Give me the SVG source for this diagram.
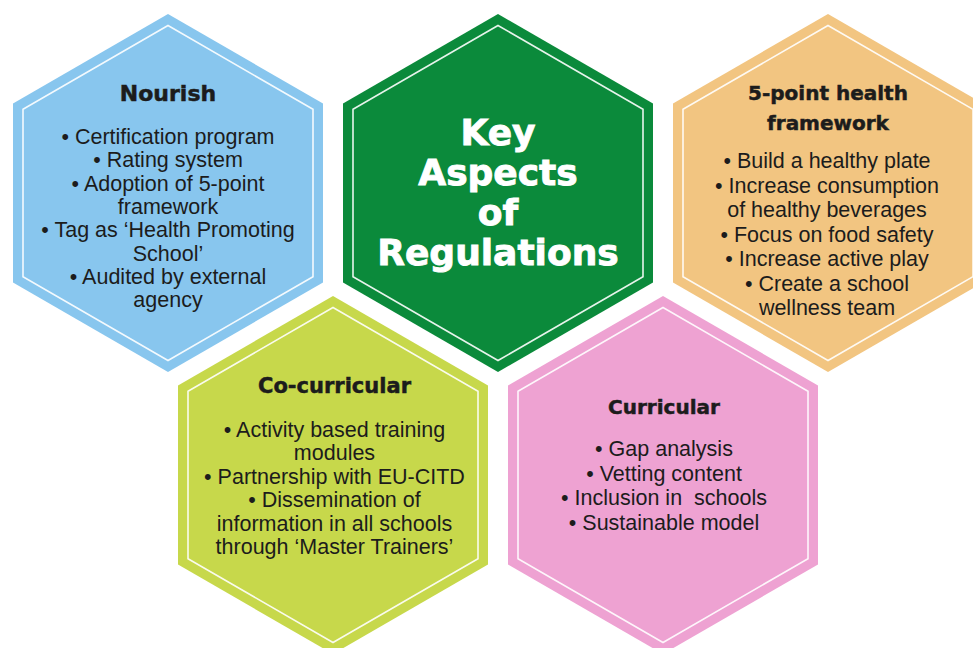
<svg xmlns="http://www.w3.org/2000/svg" xmlns:xlink="http://www.w3.org/1999/xlink" width="973" height="648" viewBox="0 0 973 648">
<style>
.inner{fill:none;stroke:#ffffff;stroke-width:1.6;stroke-opacity:0.9}
.t{font-family:"DejaVu Sans","Liberation Sans",Arial,sans-serif;font-weight:bold;fill:#1c1c1c;stroke:#1c1c1c;stroke-width:0.5;text-anchor:middle}
.b{font-family:"Liberation Sans",Arial,sans-serif;font-size:21.5px;fill:#1c1c1c;text-anchor:middle}
.k{font-family:"DejaVu Sans","Liberation Sans",Arial,sans-serif;font-weight:bold;font-size:36px;fill:#ffffff;stroke:#ffffff;stroke-width:0.9;text-anchor:middle}
</style>
<defs>
<polygon id="hex" points="0,-179 155,-89.5 155,89.5 0,179 -155,89.5 -155,-89.5"/>
<polygon id="hexIn" points="0,-167.5 145,-83.7 145,83.7 0,167.5 -145,83.7 -145,-83.7"/>
</defs>
<rect width="973" height="648" fill="#ffffff"/>

<g id="nourish">
<use xlink:href="#hex" href="#hex" x="168" y="193" fill="#88c6ee"/>
<use xlink:href="#hexIn" href="#hexIn" x="168" y="193" class="inner"/>
<text class="t" x="168" y="101" font-size="22">Nourish</text>
<text class="b" x="168" y="144">• Certification program</text>
<text class="b" x="168" y="167.3">• Rating system</text>
<text class="b" x="168" y="190.6">• Adoption of 5-point</text>
<text class="b" x="168" y="214">framework</text>
<text class="b" x="168" y="237.2">• Tag as ‘Health Promoting</text>
<text class="b" x="168" y="260.5">School’</text>
<text class="b" x="168" y="283.8">• Audited by external</text>
<text class="b" x="168" y="307">agency</text>
</g>

<g id="key-aspects">
<use xlink:href="#hex" href="#hex" x="498" y="193" fill="#0b8a3b"/>
<use xlink:href="#hexIn" href="#hexIn" x="498" y="193" class="inner"/>
<text class="k" x="498" y="145">Key</text>
<text class="k" x="498" y="185">Aspects</text>
<text class="k" x="498" y="225">of</text>
<text class="k" x="498" y="265">Regulations</text>
</g>

<g id="five-point">
<use xlink:href="#hex" href="#hex" x="828" y="193" fill="#f2c581"/>
<use xlink:href="#hexIn" href="#hexIn" x="828" y="193" class="inner"/>
<text class="t" x="828" y="100" font-size="20">5-point health</text>
<text class="t" x="828" y="130" font-size="20">framework</text>
<text class="b" x="827" y="168">• Build a healthy plate</text>
<text class="b" x="827" y="192.5">• Increase consumption</text>
<text class="b" x="827" y="217">of healthy beverages</text>
<text class="b" x="827" y="241.5">• Focus on food safety</text>
<text class="b" x="827" y="266">• Increase active play</text>
<text class="b" x="827" y="290.5">• Create a school</text>
<text class="b" x="827" y="315">wellness team</text>
</g>

<g id="co-curricular">
<use xlink:href="#hex" href="#hex" x="333" y="475" fill="#c7d84b"/>
<use xlink:href="#hexIn" href="#hexIn" x="333" y="475" class="inner"/>
<text class="t" x="334.5" y="392.5" font-size="21">Co-curricular</text>
<text class="b" x="334.5" y="436.5">• Activity based training</text>
<text class="b" x="334.5" y="460">modules</text>
<text class="b" x="334.5" y="483.5">• Partnership with EU-CITD</text>
<text class="b" x="334.5" y="507">• Dissemination of</text>
<text class="b" x="334.5" y="530.5">information in all schools</text>
<text class="b" x="334.5" y="554">through ‘Master Trainers’</text>
</g>

<g id="curricular">
<use xlink:href="#hex" href="#hex" x="663" y="475" fill="#eea2d2"/>
<use xlink:href="#hexIn" href="#hexIn" x="663" y="475" class="inner"/>
<text class="t" x="664" y="414" font-size="20">Curricular</text>
<text class="b" x="664" y="456">• Gap analysis</text>
<text class="b" x="664" y="480.5">• Vetting content</text>
<text class="b" x="664" y="505" xml:space="preserve">• Inclusion in  schools</text>
<text class="b" x="664" y="529.5">• Sustainable model</text>
</g>

<g id="connectors"/>
</svg>
